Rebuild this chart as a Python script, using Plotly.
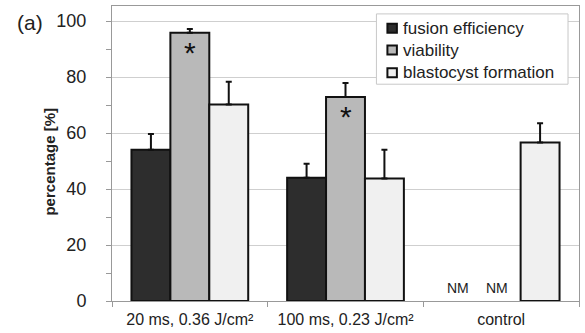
import plotly.graph_objects as go

categories = ["20 ms, 0.36 J/cm²", "100 ms, 0.23 J/cm²", "control"]
fusion = [54, 44, None]
fusion_err = [5.7, 5.0, 0]
viability = [95.8, 72.9, None]
viability_err = [1.4, 5.0, 0]
blastocyst = [70.2, 43.8, 56.6]
blastocyst_err = [8.1, 10.2, 6.9]
series_names = ["fusion efficiency", "viability", "blastocyst formation"]
colors = ["#2d2d2d", "#b9b9b9", "#f0f0f0"]

FONT = "Liberation Sans, Arial, sans-serif"
W, H = 585, 333
ML, MR, MT, MB = 112, 5, 5, 30
PW, PH = W - ML - MR, H - MT - MB


def px(x):
    return (x - ML) / PW


def py(y):
    return (H - MB - y) / PH


fig = go.Figure()
for name, vals, errs, col in zip(series_names, [fusion, viability, blastocyst],
                                 [fusion_err, viability_err, blastocyst_err], colors):
    fig.add_trace(go.Bar(
        x=categories, y=vals, name=name, showlegend=False,
        marker=dict(color=col, line=dict(color="#111", width=2)),
        error_y=dict(type="data", symmetric=False, array=errs,
                     arrayminus=[0] * len(errs), color="#111", thickness=2, width=3),
    ))

fig.update_layout(
    width=W, height=H,
    margin=dict(l=ML, r=MR, t=MT, b=MB),
    paper_bgcolor="white", plot_bgcolor="white",
    barmode="group", bargap=0.25, bargroupgap=0,
    font=dict(family=FONT, color="#222"),
)
fig.update_xaxes(
    type="category", range=[-0.5, 2.5],
    showline=True, linecolor="#999", linewidth=1, mirror=True,
    ticks="outside", tickson="boundaries", ticklen=5, tickcolor="#999",
    tickfont=dict(size=16, family=FONT, color="#222"),
    showgrid=False, ticklabelstandoff=4,
)
fig.update_yaxes(
    range=[0, 105.4], dtick=20, tick0=0,
    showline=True, linecolor="#999", linewidth=1, mirror=True,
    ticks="outside", ticklen=5, tickcolor="#999",
    tickfont=dict(size=18, family=FONT, color="#222"),
    showgrid=True, gridcolor="#cfcfcf", gridwidth=1,
    minor=dict(dtick=10, ticks="outside", ticklen=5, tickcolor="#999", showgrid=False),
    zeroline=False, ticklabelstandoff=16,
)

# y-axis title and panel label
fig.add_annotation(x=px(49), y=py(162), xref="paper", yref="paper",
                   xanchor="center", yanchor="middle",
                   text="<b>percentage [%]</b>", textangle=-90, showarrow=False,
                   font=dict(size=15, family=FONT, color="#222"))
fig.add_annotation(x=px(30), y=py(22), xref="paper", yref="paper",
                   xanchor="center", yanchor="middle", text="(a)", showarrow=False,
                   font=dict(size=21, family=FONT, color="#222"))

# significance markers
for i, v in enumerate(viability):
    if v is not None:
        fig.add_annotation(x=i, y=v, xref="x", yref="y", text="*", showarrow=False,
                           yanchor="top", yshift=-1, font=dict(size=30, family=FONT, color="#111"))

# NM labels
for xpos in [1.72, 1.97]:
    fig.add_annotation(x=xpos, y=0, xref="x", yref="y", text="NM", showarrow=False,
                       yanchor="bottom", yshift=3, font=dict(size=14, family=FONT, color="#222"))

# manual legend
fig.add_shape(type="rect", xref="paper", yref="paper",
              x0=px(377), x1=px(569), y0=py(84), y1=py(13),
              fillcolor="white", line=dict(color="#c8c8c8", width=1), layer="above")
row_y = [27.5, 49.5, 72.5]
for name, col, ry in zip(series_names, colors, row_y):
    fig.add_shape(type="rect", xref="paper", yref="paper",
                  x0=px(388), x1=px(397.5), y0=py(ry + 4.5), y1=py(ry - 4.5),
                  fillcolor=col, line=dict(color="#111", width=2), layer="above")
    fig.add_annotation(x=px(402), y=py(ry), xref="paper", yref="paper",
                       xanchor="left", yanchor="middle", text=name, showarrow=False,
                       font=dict(size=17, family=FONT, color="#222"))

fig.write_html("out.html", config={"displayModeBar": False},
               post_script="document.body.style.margin='0px';")
